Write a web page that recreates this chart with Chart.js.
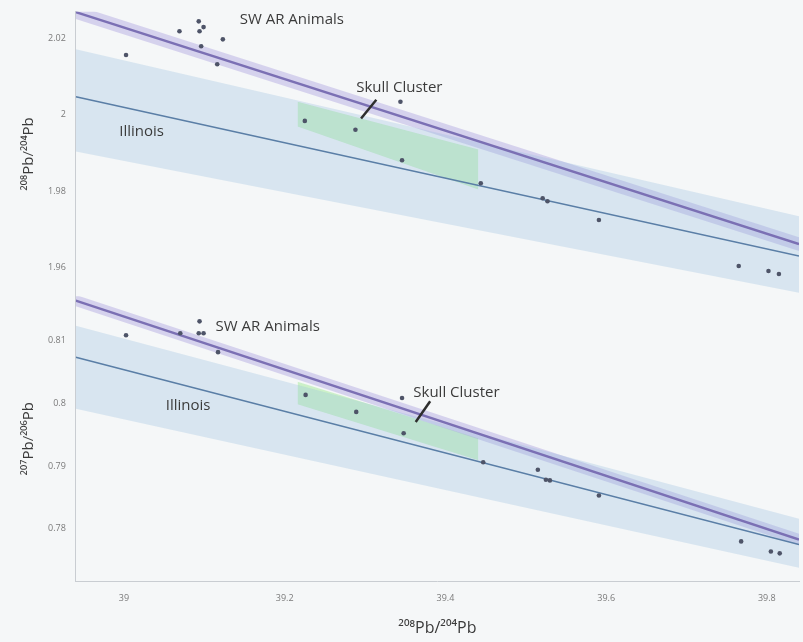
<!DOCTYPE html>
<html>
<head>
<meta charset="utf-8">
<script src="https://cdn.jsdelivr.net/npm/chart.js@4/dist/chart.umd.min.js"></script>
<style>
  html, body { margin: 0; padding: 0; background: #f5f7f8; }
  #wrap { width: 803px; height: 642px; position: relative; }
</style>
</head>
<body>
<div id="wrap"><canvas id="c"></canvas></div>
<script>
// ── data ──
const xTicks = [39, 39.2, 39.4, 39.6, 39.8];
const yTopTicks = [1.96, 1.98, 2, 2.02];
const yBotTicks = [0.78, 0.79, 0.8, 0.81];

// 208Pb/204Pb (x) vs upper panel ratio
const upperX = [39.0025, 39.069, 39.093, 39.094, 39.099, 39.096, 39.123, 39.116, 39.225, 39.288, 39.344, 39.346, 39.444, 39.521, 39.527, 39.591, 39.765, 39.802, 39.815];
const upperY = [2.0156, 2.0218, 2.0244, 2.0218, 2.0229, 2.0179, 2.0197, 2.0132, 1.9984, 1.9961, 2.0034, 1.9881, 1.9821, 1.9782, 1.9774, 1.9725, 1.9605, 1.9592, 1.9584];

// 208Pb/204Pb (x) vs 207Pb/206Pb (lower panel)
const lowerX = [39.0025, 39.070, 39.094, 39.093, 39.099, 39.117, 39.226, 39.289, 39.346, 39.348, 39.447, 39.515, 39.525, 39.530, 39.591, 39.768, 39.805, 39.816];
const lowerY = [0.8108, 0.8111, 0.8130, 0.8111, 0.8111, 0.8081, 0.8013, 0.7986, 0.8008, 0.7952, 0.7906, 0.7894, 0.7878, 0.7877, 0.7853, 0.7780, 0.7764, 0.7761];

// regression lines and bands: values at the two ends of the x range
const lineX = [38.94, 39.84];
const swLineTop = [2.0268, 1.9662];
const swBandTopHi = [2.0286, 1.9680];
const swBandTopLo = [2.0250, 1.9644];
const ilLineTop = [2.0047, 1.9631];
const ilBandTopHi = [2.0171, 1.9735];
const ilBandTopLo = [1.9904, 1.9535];

const swLineBot = [0.8163, 0.7783];
const swBandBotHi = [0.8172, 0.7792];
const swBandBotLo = [0.8154, 0.7774];
const ilLineBot = [0.8073, 0.7775];
const ilBandBotHi = [0.8123, 0.7816];
const ilBandBotLo = [0.7991, 0.7738];

// skull cluster envelope
const skullX = [39.216, 39.441];
const skullTopHi = [2.0034, 1.9909];
const skullTopLo = [1.9969, 1.9805];
const skullBotHi = [0.8034, 0.7944];
const skullBotLo = [0.7998, 0.7909];

// labels placed in data units
const labelsTop = [
  { text: 'SW AR Animals', x: 39.144, y: 2.0247 },
  { text: 'Skull Cluster', x: 39.289, y: 2.0070 },
  { text: 'Illinois', x: 38.994, y: 1.9956 }
];
const labelsBot = [
  { text: 'SW AR Animals', x: 39.114, y: 0.8122 },
  { text: 'Skull Cluster', x: 39.360, y: 0.8017 },
  { text: 'Illinois', x: 39.052, y: 0.7995 }
];
const calloutTop = [[39.314, 2.0039], [39.295, 1.9990]];
const calloutBot = [[39.381, 0.8003], [39.363, 0.7970]];

const pts = (xs, ys) => xs.map((x, i) => ({ x: x, y: ys[i] }));

const SW_COL = '#7b70b4';
const IL_COL = '#5a7ea6';
const PT_COL = '#4e5468';

function band(xs, ys, axis, color, fillTo) {
  return { data: pts(xs, ys), yAxisID: axis, showLine: true, pointRadius: 0, borderWidth: 0,
           borderColor: 'rgba(0,0,0,0)', backgroundColor: color, fill: fillTo, order: 5 };
}
function line(xs, ys, axis, color, w) {
  return { data: pts(xs, ys), yAxisID: axis, showLine: true, pointRadius: 0, borderWidth: w,
           borderColor: color, fill: false, order: 2 };
}

const datasets = [
  // upper panel
  band(lineX, ilBandTopHi, 'y', 'rgba(150,190,222,0.3)', '+1'),
  band(lineX, ilBandTopLo, 'y', 'rgba(0,0,0,0)', false),
  band(lineX, swBandTopHi, 'y', 'rgba(175,165,225,0.45)', '+1'),
  band(lineX, swBandTopLo, 'y', 'rgba(0,0,0,0)', false),
  band(skullX, skullTopHi, 'y', 'rgba(170,235,160,0.55)', '+1'),
  band(skullX, skullTopLo, 'y', 'rgba(0,0,0,0)', false),
  line(lineX, ilLineTop, 'y', IL_COL, 1.6),
  line(lineX, swLineTop, 'y', SW_COL, 2.5),
  { data: pts(upperX, upperY), yAxisID: 'y', pointRadius: 2.3, pointBackgroundColor: PT_COL, pointBorderWidth: 0, order: 1 },
  // lower panel
  band(lineX, ilBandBotHi, 'y2', 'rgba(150,190,222,0.3)', '+1'),
  band(lineX, ilBandBotLo, 'y2', 'rgba(0,0,0,0)', false),
  band(lineX, swBandBotHi, 'y2', 'rgba(175,165,225,0.45)', '+1'),
  band(lineX, swBandBotLo, 'y2', 'rgba(0,0,0,0)', false),
  band(skullX, skullBotHi, 'y2', 'rgba(170,235,160,0.55)', '+1'),
  band(skullX, skullBotLo, 'y2', 'rgba(0,0,0,0)', false),
  line(lineX, ilLineBot, 'y2', IL_COL, 1.6),
  line(lineX, swLineBot, 'y2', SW_COL, 2.5),
  { data: pts(lowerX, lowerY), yAxisID: 'y2', pointRadius: 2.3, pointBackgroundColor: PT_COL, pointBorderWidth: 0, order: 1 }
];

// ── text labels and callout strokes, positioned through the scales ──
const labelPlugin = {
  id: 'panelLabels',
  afterDatasetsDraw(chart) {
    const ctx = chart.ctx, xs = chart.scales.x;
    const draw = (labels, callout, ys) => {
      ctx.save();
      ctx.fillStyle = '#3b3b3b';
      ctx.font = '15px "Open Sans", sans-serif';
      ctx.textBaseline = 'middle';
      labels.forEach(l => ctx.fillText(l.text, xs.getPixelForValue(l.x), ys.getPixelForValue(l.y)));
      ctx.strokeStyle = '#2e2e2e';
      ctx.lineWidth = 2.5;
      ctx.beginPath();
      ctx.moveTo(xs.getPixelForValue(callout[0][0]), ys.getPixelForValue(callout[0][1]));
      ctx.lineTo(xs.getPixelForValue(callout[1][0]), ys.getPixelForValue(callout[1][1]));
      ctx.stroke();
      ctx.restore();
    };
    draw(labelsTop, calloutTop, chart.scales.y);
    draw(labelsBot, calloutBot, chart.scales.y2);
  }
};

const fmt = v => String(+v.toFixed(3));
const tickFont = { family: '"Open Sans", sans-serif', size: 9 };
const titleFont = { family: '"Open Sans", sans-serif', size: 15 };

new Chart(document.getElementById('c'), {
  type: 'scatter',
  data: { datasets: datasets },
  options: {
    responsive: true, maintainAspectRatio: false, animation: false,
    layout: { padding: { top: 10, right: 0, left: 16, bottom: 0 } },
    plugins: { legend: { display: false }, tooltip: { enabled: false } },
    scales: {
      x: {
        type: 'linear', min: 38.94, max: 39.84,
        afterBuildTicks: s => { s.ticks = xTicks.map(v => ({ value: v })); },
        grid: { display: false, drawTicks: false },
        border: { color: '#c9cdd2', width: 1 },
        ticks: { color: '#7a7a7a', font: tickFont, padding: 12, callback: fmt, maxRotation: 0 },
        title: { display: true, text: '²⁰⁸Pb/²⁰⁴Pb', color: '#3b3b3b', font: { family: '"Open Sans", sans-serif', size: 16 }, padding: { top: 3 } }
      },
      // first scale in a stack sits at the bottom
      y2: {
        type: 'linear', position: 'left', stack: 'panels', stackWeight: 1,
        min: 0.7717, max: 0.817,
        afterBuildTicks: s => { s.ticks = yBotTicks.map(v => ({ value: v })); },
        grid: { display: false, tickLength: 4 },
        border: { color: '#c9cdd2', width: 1 },
        ticks: { color: '#7a7a7a', font: tickFont, padding: 6, callback: fmt },
        title: { display: true, text: '²⁰⁷Pb/²⁰⁶Pb', color: '#3b3b3b', font: titleFont, padding: { bottom: 4 } }
      },
      y: {
        type: 'linear', position: 'left', stack: 'panels', stackWeight: 1,
        min: 1.9526, max: 2.027,
        afterBuildTicks: s => { s.ticks = yTopTicks.map(v => ({ value: v })); },
        grid: { display: false, tickLength: 4 },
        border: { color: '#c9cdd2', width: 1 },
        ticks: { color: '#7a7a7a', font: tickFont, padding: 6, callback: fmt },
        title: { display: true, text: '²⁰⁸Pb/²⁰⁴Pb', color: '#3b3b3b', font: titleFont, padding: { bottom: 4 } }
      }
    }
  },
  plugins: [labelPlugin]
});
</script>
</body>
</html>
